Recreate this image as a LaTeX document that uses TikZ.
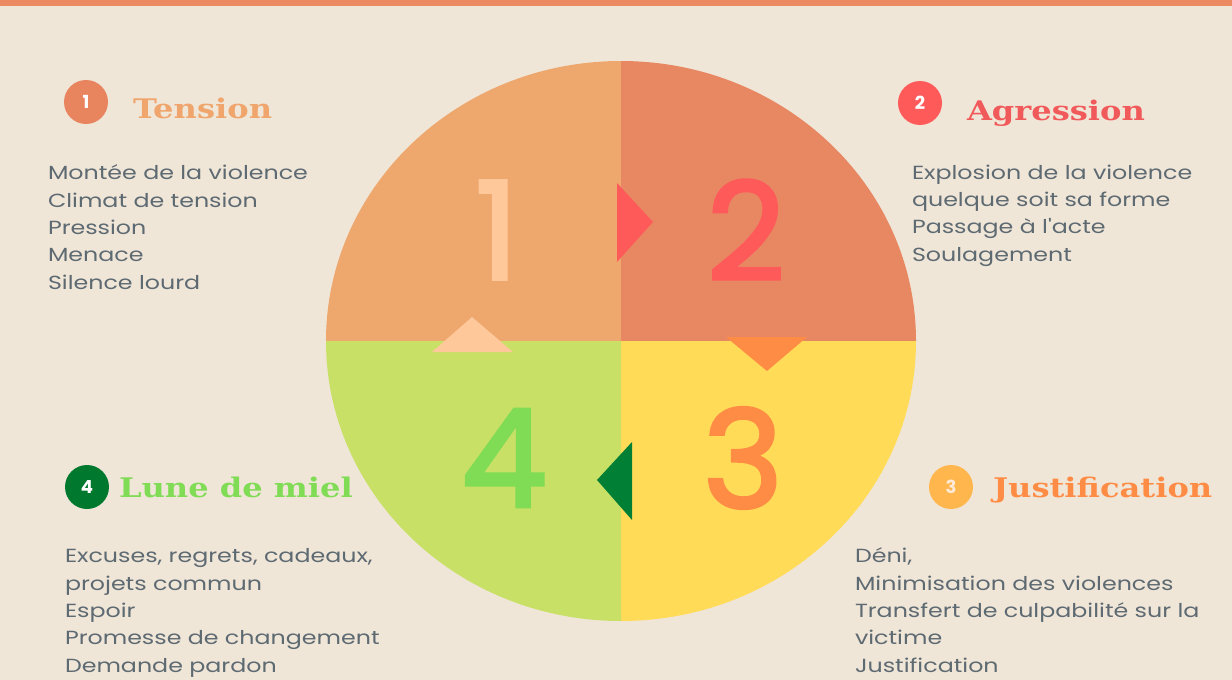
\documentclass[tikz,border=0pt]{standalone}
\usepackage{fontspec}
\setmainfont{Poppins}
\newfontfamily\bodyfont{Poppins}[FakeStretch=1.25]
\newfontfamily\headfont{DejaVu Serif}[FakeStretch=1.19]
\newfontfamily\numfont{Poppins}[FakeBold=2.5]
\definecolor{bgcream}{HTML}{F0E6D8}
\definecolor{topbar}{HTML}{EC8A62}
\definecolor{quadA}{HTML}{EEA76D}
\definecolor{quadB}{HTML}{E88862}
\definecolor{quadC}{HTML}{FFDB58}
\definecolor{quadD}{HTML}{C8E066}
\definecolor{numA}{HTML}{FFC89A}
\definecolor{numB}{HTML}{FF5A5A}
\definecolor{numC}{HTML}{FF8C45}
\definecolor{numD}{HTML}{80DB55}
\definecolor{triD}{HTML}{007F35}
\definecolor{badgeA}{HTML}{E8845E}
\definecolor{badgeC}{HTML}{FFB74D}
\definecolor{badgeD}{HTML}{00782E}
\definecolor{headA}{HTML}{EFA56C}
\definecolor{headB}{HTML}{F05A5A}
\definecolor{bodygray}{HTML}{5E6A72}
\begin{document}
\begin{tikzpicture}[x=1pt,y=-1pt,inner sep=0pt,outer sep=0pt,
listtext/.style={anchor=base west,align=left,text=bodygray,font=\bodyfont\fontsize{19}{27.3}\selectfont},
headtext/.style={anchor=base west,font=\headfont\bfseries\fontsize{27}{27}\selectfont},
badge/.style={circle,minimum size=44pt,font=\bfseries\fontsize{18}{18}\selectfont,text=white},
bignum/.style={font=\numfont\fontsize{136}{136}\selectfont}]

\useasboundingbox (0,0) rectangle (1232,680);
\fill[bgcream] (0,0) rectangle (1232,680);
\fill[topbar] (0,0) rectangle (1232,6);

% the four quarters of the cycle
\coordinate (c) at (621,341);
\fill[quadA] (c) -- ++(-295,0) arc[start angle=180,end angle=270,x radius=295,y radius=280] -- cycle;
\fill[quadB] (c) -- ++(0,-280) arc[start angle=270,end angle=360,x radius=295,y radius=280] -- cycle;
\fill[quadC] (c) -- ++(295,0) arc[start angle=0,end angle=90,x radius=295,y radius=280] -- cycle;
\fill[quadD] (c) -- ++(0,280) arc[start angle=90,end angle=180,x radius=295,y radius=280] -- cycle;

\node[bignum,text=numA] (n1) at (497,230) {1};
\node[bignum,text=numB] (n2) at (746,230) {2};
\node[bignum,text=numC] (n3) at (743,458) {3};
\node[bignum,text=numD] (n4) at (504,458) {4};

% arrow heads between the phases
\fill[numB] (617,183) -- (653,222) -- (617,262) -- cycle;
\fill[numC] (726,337) -- (807,337) -- (767,371) -- cycle;
\fill[triD] (632,442) -- (597,480) -- (632,520) -- cycle;
\fill[numA] (472,317) -- (513,352) -- (432,352) -- cycle;

% phase titles
\node[badge,fill=badgeA] (b1) at (86,102) {1};
\node[headtext,text=headA] (t1) at (133,118) {Tension};
\node[badge,fill=numB] (b2) at (920,103) {2};
\node[headtext,text=headB] (t2) at (967,120) {Agression};
\node[badge,fill=badgeC,text=numA!40!white] (b3) at (951,487) {3};
\node[headtext,text=numC] (t3) at (993,497) {Justification};
\node[badge,fill=badgeD] (b4) at (87,487) {4};
\node[headtext,text=numD] (t4) at (119,497) {Lune de miel};

% phase descriptions (anchored on the last line)
\node[listtext] (l1) at (48,289) {Montée de la violence\\Climat de tension\\Pression\\Menace\\Silence lourd};
\node[listtext] (l2) at (912,261) {Explosion de la violence\\quelque soit sa forme\\Passage à l'acte\\Soulagement};
\node[listtext] (l3) at (855,672) {Déni,\\Minimisation des violences\\Transfert de culpabilité sur la\\victime\\Justification};
\node[listtext] (l4) at (65,672) {Excuses, regrets, cadeaux,\\projets commun\\Espoir\\Promesse de changement\\Demande pardon};
\end{tikzpicture}
\end{document}
